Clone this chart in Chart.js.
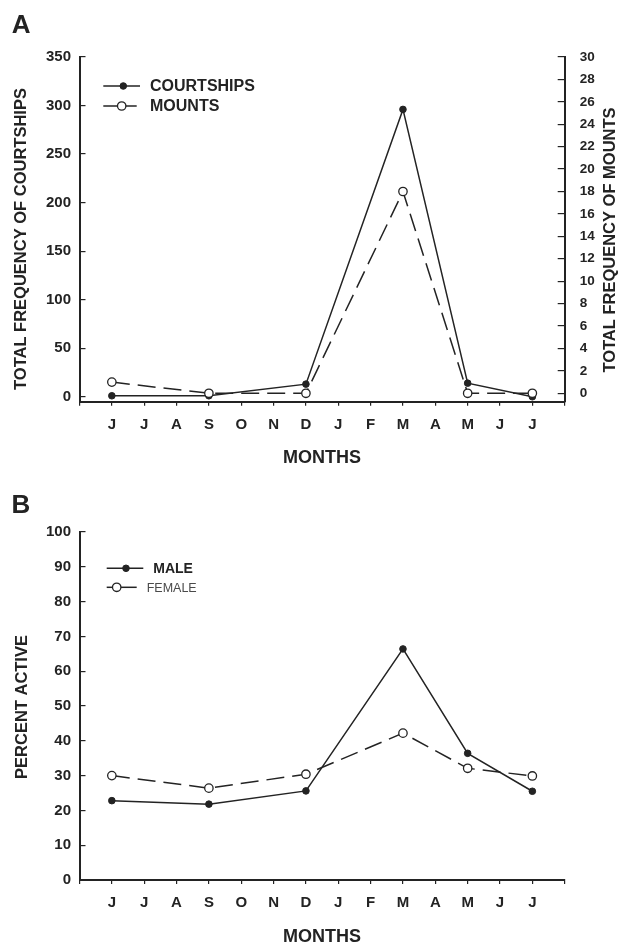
<!DOCTYPE html>
<html>
<head>
<meta charset="utf-8">
<script src="https://cdn.jsdelivr.net/npm/chart.js@4.4.1/dist/chart.umd.min.js"></script>
<style>
  html, body { margin: 0; padding: 0; background: #fff; width: 619px; height: 942px; overflow: hidden; }
  canvas { position: absolute; left: 0; }
  #chartA { top: 0; }
  #chartB { top: 480px; }
</style>
</head>
<body>
<canvas id="chartA" width="619" height="480"></canvas>
<canvas id="chartB" width="619" height="470"></canvas>
<script>
// month tick labels, June to June; samples were taken in six of them
const MONTHS = ['J', 'J', 'A', 'S', 'O', 'N', 'D', 'J', 'F', 'M', 'A', 'M', 'J', 'J'];
const SAMPLE_MONTH = [1, 4, 7, 10, 12, 14]; // J S D M M J

// panel A
const courtships = [1, 1, 13, 296, 14, 0];
const mounts = [1, 0, 0, 18, 0, 0];

// panel B
const male = [22.8, 21.8, 25.6, 66.4, 36.4, 25.5];
const female = [30.0, 26.4, 30.4, 42.2, 32.1, 29.9];

const INK = '#232323';
const FONT = '"Liberation Sans", Arial, sans-serif';
Chart.defaults.font.family = FONT;
Chart.defaults.color = INK;

const toPoints = vals => vals.map((v, i) => ({ x: SAMPLE_MONTH[i], y: v }));

function solidSeries(label, vals, axis) {
  return {
    label, data: toPoints(vals), yAxisID: axis, order: 1,
    borderColor: INK, borderWidth: 1.5, tension: 0, clip: false,
    pointRadius: 3.3, pointBackgroundColor: INK, pointBorderColor: INK, pointBorderWidth: 1
  };
}

function dashedSeries(label, vals, axis) {
  return {
    label, data: toPoints(vals), yAxisID: axis, order: 0,
    borderColor: INK, borderWidth: 1.5, borderDash: [18, 8], tension: 0, clip: false,
    pointRadius: 4.2, pointBackgroundColor: '#fff', pointBorderColor: INK, pointBorderWidth: 1.3
  };
}

function monthAxis(height, labelPad, titlePad) {
  return {
    type: 'linear', position: 'bottom', min: 0, max: 15,
    afterFit: s => { s.height = height; },
    ticks: {
      stepSize: 1, autoSkip: false, maxRotation: 0, padding: labelPad,
      color: INK, font: { size: 15, weight: 'bold' },
      callback: v => MONTHS[v - 1] || ''
    },
    grid: { drawOnChartArea: false, tickLength: 4, color: INK, lineWidth: 1.2 },
    border: { color: INK, width: 2 },
    title: {
      display: true, text: 'MONTHS', color: INK,
      font: { size: 18, weight: 'bold' }, padding: { top: 0, bottom: titlePad }
    }
  };
}

function valueAxis(position, min, max, step, width, labelPad, tickLen, fontSize) {
  return {
    type: 'linear', position, min, max,
    afterFit: s => { s.width = width; },
    ticks: {
      stepSize: step, includeBounds: false, padding: labelPad,
      color: INK, font: { size: fontSize, weight: 'bold' }
    },
    grid: { drawOnChartArea: false, tickLength: -tickLen, color: INK, lineWidth: 1.2 },
    border: { color: INK, width: 2 }
  };
}

// panel letter, rotated axis titles and the line+marker legend
const decor = {
  id: 'decor',
  afterDraw(chart, _args, o) {
    const ctx = chart.ctx;
    ctx.save();
    ctx.fillStyle = INK;
    ctx.font = 'bold 26px ' + FONT;
    ctx.textAlign = 'left';
    ctx.textBaseline = 'alphabetic';
    ctx.fillText(o.letter.text, o.letter.x, o.letter.y);

    ctx.font = 'bold 16.5px ' + FONT;
    ctx.textAlign = 'center';
    ctx.textBaseline = 'middle';
    for (const t of o.titles) {
      ctx.save();
      ctx.translate(t.x, t.y);
      ctx.rotate(-Math.PI / 2);
      ctx.fillText(t.text, 0, 0);
      ctx.restore();
    }

    ctx.textAlign = 'left';
    for (const r of o.legend) {
      const ds = chart.data.datasets[r.ds];
      ctx.setLineDash([]);
      ctx.strokeStyle = INK;
      ctx.lineWidth = 1.5;
      ctx.beginPath();
      ctx.moveTo(r.x1, r.y);
      ctx.lineTo(r.x2, r.y);
      ctx.stroke();
      ctx.beginPath();
      ctx.arc(r.mx, r.y, ds.pointRadius, 0, Math.PI * 2);
      ctx.fillStyle = ds.pointBackgroundColor;
      ctx.fill();
      ctx.lineWidth = ds.pointBorderWidth;
      ctx.stroke();
      ctx.fillStyle = r.color || INK;
      ctx.font = r.font;
      ctx.fillText(ds.label, r.tx, r.y + 1);
    }
    ctx.restore();
  }
};

const common = {
  responsive: false,
  animation: false,
  devicePixelRatio: 1,
  events: []
};

new Chart(document.getElementById('chartA'), {
  type: 'line',
  data: {
    datasets: [
      solidSeries('COURTSHIPS', courtships, 'yL'),
      dashedSeries('MOUNTS', mounts, 'yR')
    ]
  },
  options: {
    ...common,
    layout: { padding: { top: 57, left: 0, right: 0, bottom: 0 } },
    plugins: {
      legend: { display: false },
      tooltip: { enabled: false },
      decor: {
        letter: { text: 'A', x: 11.7, y: 33.3 },
        titles: [
          { text: 'TOTAL FREQUENCY OF COURTSHIPS', x: 21.7, y: 239 },
          { text: 'TOTAL FREQUENCY OF MOUNTS', x: 610, y: 240 }
        ],
        legend: [
          { ds: 0, x1: 103.3, x2: 140, mx: 123.3, y: 86, tx: 150, font: 'bold 16px ' + FONT },
          { ds: 1, x1: 103.3, x2: 136.7, mx: 121.7, y: 106, tx: 150, font: 'bold 16px ' + FONT }
        ]
      }
    },
    scales: {
      x: monthAxis(480 - 401.7, 10.5, 11),
      yL: valueAxis('left', -5.1, 350, 50, 79.5, 14.5, 6, 15),
      yR: valueAxis('right', -0.75, 30, 2, 619 - 564.7, 22, 7, 13.5)
    }
  },
  plugins: [decor]
});

new Chart(document.getElementById('chartB'), {
  type: 'line',
  data: {
    datasets: [
      solidSeries('MALE', male, 'y'),
      dashedSeries('FEMALE', female, 'y')
    ]
  },
  options: {
    ...common,
    layout: { padding: { top: 52, left: 0, right: 619 - 564.7, bottom: 0 } },
    plugins: {
      legend: { display: false },
      tooltip: { enabled: false },
      decor: {
        letter: { text: 'B', x: 11.5, y: 33.3 },
        titles: [
          { text: 'PERCENT ACTIVE', x: 22, y: 227 }
        ],
        legend: [
          { ds: 0, x1: 106.7, x2: 143.3, mx: 126, y: 88.3, tx: 153.3, font: 'bold 14px ' + FONT },
          { ds: 1, x1: 106.7, x2: 136.7, mx: 116.7, y: 107.3, tx: 146.7, font: '12.5px ' + FONT, color: '#4a4a4a' }
        ]
      }
    },
    scales: {
      x: monthAxis(470 - 400, 9.5, 2),
      y: valueAxis('left', 0, 100, 10, 79.5, 14.5, 6, 15)
    }
  },
  plugins: [decor]
});
</script>
</body>
</html>
